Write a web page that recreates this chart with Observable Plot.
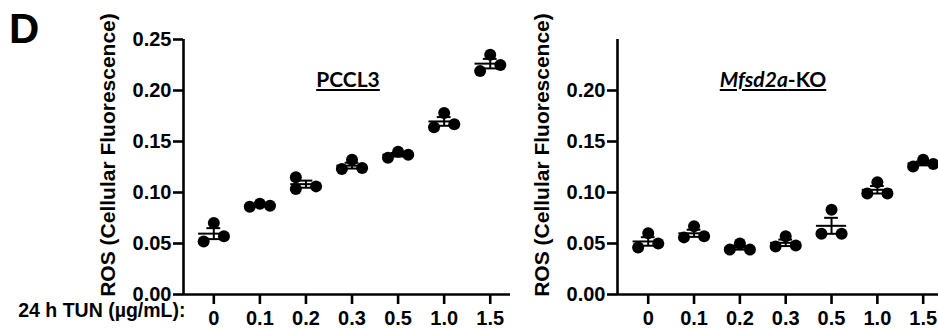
<!DOCTYPE html>
<html>
<head>
<meta charset="utf-8">
<script src="https://cdn.jsdelivr.net/npm/d3@7"></script>
<script src="https://cdn.jsdelivr.net/npm/@observablehq/plot@0.6"></script>
<style>
  html, body { margin: 0; padding: 0; background: #fff; }
  #wrap { position: relative; width: 938px; height: 331px; overflow: hidden; font-family: Lato, "Open Sans", sans-serif; font-weight: bold; color: #000; }
  #wrap svg { position: absolute; top: 0; }
  .lbl { position: absolute; white-space: nowrap; font-weight: bold; line-height: 1; }
</style>
</head>
<body>
<div id="wrap"></div>
<script>
// ---- data ----
const doses = ["0", "0.1", "0.2", "0.3", "0.5", "1.0", "1.5"];
const pccl3 = [
  [0.052, 0.070, 0.057],
  [0.086, 0.089, 0.087],
  [0.115, 0.1035, 0.106],
  [0.123, 0.132, 0.124],
  [0.134, 0.140, 0.137],
  [0.164, 0.178, 0.167],
  [0.219, 0.235, 0.225]
];
const mfsd2a = [
  [0.046, 0.060, 0.050],
  [0.056, 0.067, 0.057],
  [0.044, 0.050, 0.044],
  [0.047, 0.057, 0.048],
  [0.0595, 0.083, 0.0595],
  [0.099, 0.110, 0.099],
  [0.1255, 0.132, 0.128]
];
const yTicksLeft = [0, 0.05, 0.10, 0.15, 0.20, 0.25];
const yTicksRight = [0, 0.05, 0.10, 0.15, 0.20];
const yLabel = "ROS (Cellular Fluorescence)";
const xLabel = "24 h TUN (µg/mL):";

// ---- helpers ----
function rows(values, spread) {
  const out = [];
  values.forEach((reps, i) => reps.forEach((v, j) => out.push({i, x: i + spread(i, j), v})));
  return out;
}
function summary(values) {
  return values.map((reps, i) => {
    const m = d3.mean(reps);
    const se = d3.deviation(reps) / Math.sqrt(reps.length);
    return {i, mean: m, lo: m - se, hi: m + se};
  });
}
const W = 0.22;            // horizontal spread of replicate dots (in category steps)
const defaultSpread = (i, j) => (j - 1) * W;
const AXFONT = "'Liberation Sans', Arial, sans-serif";

function panel({values, spread, width, marginLeft, marginRight, xDomain, yTicks, showXLabel, labelDx}) {
  const pts = rows(values, spread);
  const sum = summary(values);
  const marks = [
    Plot.ruleY([0], {stroke: "black", strokeWidth: 2.6}),
    Plot.ruleX([xDomain[0]], {y1: 0, y2: 0.25, stroke: "black", strokeWidth: 2.6}),
    Plot.axisY({ticks: yTicks, tickFormat: d3.format(".2f"), tickSize: 10, tickPadding: 2, strokeWidth: 2.6, label: null, fontSize: 20}),
    Plot.axisX({ticks: d3.range(doses.length), tickFormat: i => doses[i], tickSize: 10, tickPadding: 6, strokeWidth: 2.6, label: null, fontSize: 20}),
    Plot.text([yLabel], {frameAnchor: "left", textAnchor: "middle", rotate: -90, dx: labelDx, dy: -12, fontSize: 21, fontWeight: "bold", fill: "black"}),
    Plot.dot(pts, {x: "x", y: "v", r: 6, fill: "black", stroke: "none"}),
    Plot.ruleY(sum, {y: "mean", x1: d => d.i - 0.33, x2: d => d.i + 0.33, stroke: "black", strokeWidth: 2}),
    Plot.ruleX(sum, {x: "i", y1: "lo", y2: "hi", stroke: "black", strokeWidth: 2}),
    Plot.ruleY(sum, {y: "hi", x1: d => d.i - 0.15, x2: d => d.i + 0.15, stroke: "black", strokeWidth: 2}),
    Plot.ruleY(sum, {y: "lo", x1: d => d.i - 0.15, x2: d => d.i + 0.15, stroke: "black", strokeWidth: 2})
  ];
  if (showXLabel) {
    marks.push(Plot.text([xLabel], {frameAnchor: "bottom-left", textAnchor: "end", dx: 2, dy: 22, fontSize: 19.5, fontWeight: "bold", fill: "black"}));
  }
  return Plot.plot({
    width, height: 331,
    marginLeft, marginRight, marginTop: 39, marginBottom: 37,
    x: {type: "linear", domain: xDomain},
    y: {domain: [0, 0.25]},
    style: {fontFamily: AXFONT, fontWeight: "bold", fontSize: "20px", color: "black", background: "transparent", overflow: "visible"},
    marks
  });
}

const wrap = document.getElementById("wrap");

const left = panel({
  values: pccl3,
  spread: (i, j) => (i === 2 ? [-W, -W, W][j] : defaultSpread(i, j)),
  width: 515, marginLeft: 183, marginRight: 5,
  xDomain: [-0.658, 6.44],
  yTicks: yTicksLeft, showXLabel: true, labelDx: -75
});
left.style.left = "0px";
wrap.appendChild(left);

const right = panel({
  values: mfsd2a,
  spread: defaultSpread,
  width: 423, marginLeft: 102, marginRight: 0,
  xDomain: [-0.67, 6.334],
  yTicks: yTicksRight, showXLabel: false, labelDx: -75
});
right.style.left = "515px";
wrap.appendChild(right);

// panel letter and panel titles
function label(html, css) {
  const d = document.createElement("div");
  d.className = "lbl";
  d.innerHTML = html;
  Object.assign(d.style, css);
  wrap.appendChild(d);
}
label("D", {left: "9px", top: "8px", fontSize: "42px", fontFamily: AXFONT});
label("<u>PCCL3</u>", {left: "348px", top: "68px", fontSize: "21px", transform: "translateX(-50%)"});
label("<u><i>Mfsd2a</i>-KO</u>", {left: "773px", top: "68px", fontSize: "21px", transform: "translateX(-50%)"});
</script>
</body>
</html>
